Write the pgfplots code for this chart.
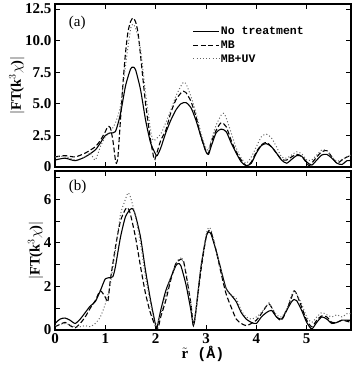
\documentclass[border=0pt]{standalone}
\usepackage{fontspec}
\setmainfont{Liberation Serif}
\newfontfamily\mono{Liberation Mono}
\usepackage{pgfplots}
\pgfplotsset{compat=1.18}
\pgfplotsset{
  common/.style={
    scale only axis, width=296pt, xmin=0, xmax=5.88,
    tick align=inside, ticks=both, xtick={0,1,2,3,4,5},
    tick style={black, line width=0.8pt}, major tick length=5pt, minor tick length=5pt,
    axis line style={line width=1.1pt},
    /pgf/number format/assume math mode=true,
    ticklabel style={font=\fontsize{15}{15}\selectfont\bfseries},
    ylabel style={font=\fontsize{14.5}{14.5}\selectfont\bfseries, yshift=-6pt},
    legend image code/.code={\draw[##1] (0pt,0pt) -- (26pt,0pt);},
  },
  s1/.style={black, line width=1.1pt, smooth, tension=0.4},
  s2/.style={black, line width=1.1pt, dash pattern=on 5pt off 2.5pt, smooth, tension=0.4},
  s3/.style={black!60, line width=1pt, dash pattern=on 1pt off 2.2pt, smooth, tension=0.4},
}
\begin{document}
\begin{tikzpicture}
\path[use as bounding box] (0,0) rectangle (352pt,-367pt);
\begin{axis}[common, at={(55pt,-4pt)}, anchor=north west, height=163pt,
  ymin=0, ymax=12.9, ytick={0,2.5,5,7.5,10,12.5},
  yticklabels={0,2.5,5.0,7.5,10.0,12.5}, xticklabels={},
  ylabel={$|$FT(k$^3\chi$)$|$},
  legend style={at={(rel axis cs:0.465,0.865)}, anchor=north west, draw=none, fill=none,
    font=\mono\bfseries\fontsize{11.5}{11.5}\selectfont, row sep=2.5pt, inner sep=0pt,
    nodes={inner sep=1pt}},
  legend cell align=left]
\addplot[s1] coordinates {(0,0.55)(0.2,0.7)(0.4,0.5)(0.6,0.8)(0.8,1.35)(0.9,1.9)(1.0,2.5)(1.1,2.7)(1.2,2.8)(1.3,4.2)(1.4,6.4)(1.5,7.75)(1.55,7.9)(1.6,7.7)(1.7,6.1)(1.8,3.7)(1.9,1.9)(2.0,1.0)(2.03,0.9)(2.1,1.5)(2.2,2.7)(2.3,3.7)(2.4,4.5)(2.5,5.0)(2.6,5.1)(2.7,4.7)(2.8,3.7)(2.9,2.4)(3.0,1.2)(3.05,1.0)(3.1,1.6)(3.2,2.7)(3.3,3.0)(3.4,2.8)(3.5,1.9)(3.6,1.1)(3.7,0.4)(3.8,0.1)(3.9,0.3)(4.0,1.1)(4.1,1.7)(4.2,1.85)(4.3,1.6)(4.4,1.1)(4.5,0.55)(4.6,0.3)(4.7,0.6)(4.8,0.9)(4.9,0.85)(5.0,0.4)(5.1,0.15)(5.2,0.55)(5.3,0.95)(5.4,1.0)(5.5,0.7)(5.6,0.3)(5.7,0.2)(5.8,0.5)(5.88,0.5)};
\addlegendentry{No treatment}
\addplot[s2] coordinates {(0,0.8)(0.2,0.9)(0.4,0.8)(0.6,1.1)(0.8,1.6)(0.9,2.1)(1.0,2.8)(1.05,3.2)(1.1,3.1)(1.15,2.1)(1.2,0.55)(1.22,0.3)(1.25,0.8)(1.3,3.7)(1.35,6.6)(1.4,9.0)(1.45,10.7)(1.5,11.5)(1.55,11.8)(1.6,11.5)(1.65,10.6)(1.7,8.8)(1.8,5.0)(1.9,2.1)(1.97,0.6)(2.0,0.8)(2.1,2.1)(2.2,2.9)(2.3,4.3)(2.4,5.3)(2.5,5.85)(2.55,6.0)(2.6,5.9)(2.7,5.2)(2.8,4.0)(2.9,2.4)(3.0,1.2)(3.05,1.1)(3.1,1.9)(3.2,2.9)(3.3,3.5)(3.4,3.2)(3.5,2.1)(3.6,1.2)(3.7,0.55)(3.8,0.1)(3.9,0.4)(4.0,1.2)(4.1,1.75)(4.2,1.95)(4.3,1.6)(4.4,1.1)(4.5,0.6)(4.6,0.55)(4.7,0.8)(4.8,1.0)(4.9,0.85)(5.0,0.3)(5.05,0.1)(5.1,0.3)(5.2,0.8)(5.3,1.2)(5.4,1.3)(5.5,0.8)(5.6,0.3)(5.7,0.55)(5.8,0.8)(5.88,0.9)};
\addlegendentry{MB}
\addplot[s3] coordinates {(0,0.8)(0.2,0.85)(0.4,0.55)(0.6,0.8)(0.7,1.1)(0.8,0.55)(0.9,1.6)(1.0,2.4)(1.1,2.8)(1.2,3.5)(1.3,4.8)(1.4,8.0)(1.5,10.9)(1.55,11.3)(1.6,11.0)(1.7,9.3)(1.8,5.8)(1.9,2.9)(1.95,2.1)(2.0,2.2)(2.1,2.6)(2.2,3.5)(2.3,4.5)(2.4,5.6)(2.5,6.4)(2.55,6.7)(2.6,6.6)(2.7,5.6)(2.8,4.3)(2.9,2.7)(3.0,1.5)(3.05,1.35)(3.1,2.1)(3.2,3.3)(3.3,4.1)(3.35,4.25)(3.4,3.9)(3.5,2.7)(3.6,1.5)(3.7,0.7)(3.8,0.3)(3.9,0.8)(4.0,1.6)(4.1,2.4)(4.2,2.6)(4.3,2.3)(4.4,1.6)(4.5,0.8)(4.6,0.7)(4.7,0.95)(4.8,1.2)(4.9,1.05)(5.0,0.55)(5.1,0.55)(5.2,0.95)(5.3,1.35)(5.4,1.3)(5.5,0.8)(5.6,0.45)(5.7,0.6)(5.8,0.8)(5.88,0.95)};
\addlegendentry{MB+UV}
\node[anchor=west, font=\fontsize{15}{15}\selectfont] at (rel axis cs:0.035,0.885) {(a)};
\end{axis}
\begin{axis}[common, at={(55pt,-171pt)}, anchor=north west, height=159pt,
  ymin=0, ymax=7.3, ytick={0,2,4,6}, minor ytick={1,3,5,7},
  ylabel={$|$FT(k$^3\chi$)$|$},
  xlabel={\mono\bfseries $\tilde{\mathbf{r}}$ (Å)},
  xlabel style={font=\fontsize{15}{15}\selectfont, yshift=4pt}]
\addplot[s1] coordinates {(0,0.3)(0.1,0.5)(0.2,0.55)(0.3,0.45)(0.4,0.3)(0.5,0.5)(0.6,0.8)(0.7,1.1)(0.8,1.3)(0.9,1.8)(1.0,2.35)(1.1,2.4)(1.15,2.45)(1.2,2.9)(1.3,4.25)(1.4,5.2)(1.5,5.55)(1.55,5.55)(1.6,5.25)(1.7,4.25)(1.8,2.7)(1.9,1.35)(2.0,0.2)(2.02,0.05)(2.1,0.9)(2.2,1.8)(2.3,2.4)(2.4,2.95)(2.45,3.05)(2.5,2.95)(2.6,2.1)(2.7,0.9)(2.75,0.2)(2.8,0.9)(2.9,2.9)(3.0,4.25)(3.05,4.5)(3.1,4.4)(3.2,3.65)(3.3,2.75)(3.4,1.9)(3.5,1.6)(3.6,1.3)(3.7,0.8)(3.8,0.5)(3.9,0.35)(4.0,0.3)(4.1,0.6)(4.2,0.8)(4.3,0.9)(4.4,0.6)(4.5,0.5)(4.6,0.9)(4.7,1.3)(4.75,1.4)(4.8,1.35)(4.9,0.9)(5.0,0.35)(5.1,0.05)(5.2,0.35)(5.3,0.6)(5.4,0.5)(5.5,0.3)(5.6,0.35)(5.7,0.45)(5.8,0.45)(5.88,0.45)};
\addplot[s2] coordinates {(0,0.15)(0.2,0.35)(0.3,0.2)(0.4,0.1)(0.5,0.3)(0.6,0.6)(0.7,1.0)(0.8,1.35)(0.9,1.8)(1.0,1.5)(1.05,1.3)(1.1,2.3)(1.2,3.8)(1.3,5.0)(1.4,5.55)(1.45,5.6)(1.5,5.3)(1.6,4.25)(1.7,2.9)(1.8,1.65)(1.9,0.75)(2.0,0.15)(2.05,0.1)(2.1,0.6)(2.2,1.35)(2.3,2.3)(2.4,3.05)(2.5,3.25)(2.55,3.2)(2.6,2.6)(2.7,1.2)(2.75,0.2)(2.8,0.9)(2.9,2.75)(3.0,4.25)(3.05,4.55)(3.1,4.5)(3.2,3.65)(3.3,2.6)(3.4,1.65)(3.5,1.05)(3.6,0.5)(3.7,0.3)(3.8,0.2)(3.9,0.3)(4.0,0.45)(4.1,0.75)(4.2,1.1)(4.25,1.2)(4.3,1.05)(4.4,0.6)(4.5,0.45)(4.6,0.9)(4.7,1.5)(4.75,1.8)(4.8,1.65)(4.9,1.05)(5.0,0.45)(5.1,0.15)(5.2,0.45)(5.3,0.65)(5.4,0.6)(5.5,0.35)(5.6,0.35)(5.7,0.45)(5.8,0.4)(5.88,0.35)};
\addplot[s3] coordinates {(0,0.2)(0.2,0.3)(0.4,0.15)(0.5,0.15)(0.6,0.2)(0.7,0.15)(0.8,0.3)(0.9,0.6)(1.0,1.2)(1.1,2.1)(1.2,3.65)(1.3,5.3)(1.4,6.0)(1.45,6.3)(1.5,6.1)(1.6,5.2)(1.7,3.95)(1.8,2.4)(1.9,1.2)(2.0,0.2)(2.1,0.75)(2.2,1.6)(2.3,2.4)(2.4,3.05)(2.5,3.3)(2.6,2.7)(2.7,1.2)(2.75,0.3)(2.8,0.9)(2.9,2.9)(3.0,4.35)(3.05,4.7)(3.1,4.6)(3.2,3.7)(3.3,2.7)(3.4,1.9)(3.5,1.6)(3.6,1.45)(3.7,0.9)(3.8,0.6)(3.9,0.5)(4.0,0.6)(4.1,0.8)(4.2,1.1)(4.25,1.25)(4.3,1.05)(4.4,0.7)(4.5,0.6)(4.6,0.95)(4.7,1.6)(4.75,1.8)(4.8,1.65)(4.9,1.2)(5.0,0.6)(5.1,0.35)(5.2,0.6)(5.3,0.8)(5.4,0.7)(5.5,0.6)(5.6,0.7)(5.7,0.6)(5.8,0.75)(5.88,0.75)};
\node[anchor=west, font=\fontsize{15}{15}\selectfont] at (rel axis cs:0.035,0.9) {(b)};
\end{axis}
\end{tikzpicture}
\end{document}
